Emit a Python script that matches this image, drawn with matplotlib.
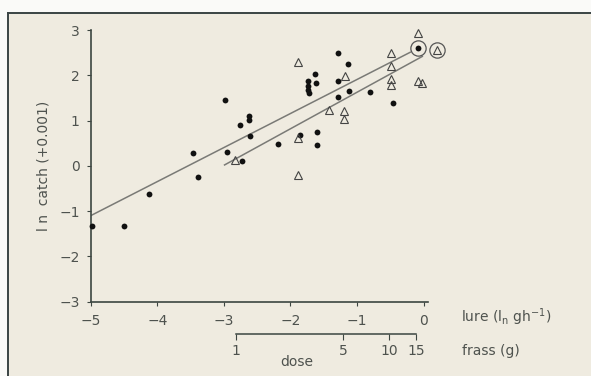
import matplotlib
matplotlib.use("Agg")
import matplotlib.pyplot as plt
from matplotlib.lines import Line2D
from matplotlib.patches import Rectangle
import numpy as np

plt.rcParams['font.family'] = ['DejaVu Sans']

# lure dose (ln g/h) vs ln catch, filled dots = lure, triangles = frass
dots_x = [-4.98, -4.50, -4.13, -3.46, -3.39, -2.99, -2.95, -2.76, -2.62, -2.62,
          -2.61, -2.73, -2.18, -1.85, -1.74, -1.74, -1.73, -1.72, -1.63, -1.62,
          -1.60, -1.60, -1.29, -1.29, -1.29, -1.13, -1.12, -0.80, -0.46, -0.09]
dots_y = [-1.33, -1.32, -0.62, 0.29, -0.24, 1.46, 0.30, 0.91, 1.11, 1.02,
          0.66, 0.11, 0.49, 0.68, 1.87, 1.77, 1.68, 1.60, 2.02, 1.83,
          0.74, 0.47, 2.49, 1.87, 1.53, 2.24, 1.66, 1.64, 1.38, 2.60]

tri_x = [-2.84, -1.89, -1.89, -1.89, -1.42, -1.19, -1.19, -1.18,
         -0.49, -0.49, -0.49, -0.49, -0.09, -0.08, -0.03, 0.20]
tri_y = [0.13, 0.62, -0.21, 2.30, 1.24, 1.22, 1.03, 1.98,
         2.49, 2.21, 1.92, 1.79, 2.94, 1.88, 1.83, 2.56]

circled_x = [-0.09, 0.20]
circled_y = [2.60, 2.56]

# regression lines: slope, intercept (at x=0), x range
dot_fit = (0.752, 2.66, -5.0, -0.2)
tri_fit = (0.807, 2.433, -2.99, -0.02)

# frass (g) axis: ln(g) = lure + offset
frass_offset = 2.82
frass_ticks = [1, 5, 10, 15]

xticks = [-5, -4, -3, -2, -1, 0]
yticks = [-3, -2, -1, 0, 1, 2, 3]

ink = '#3c4641'
txt = '#4e524e'
bg = '#efebe0'

fig = plt.figure(figsize=(5.91, 3.76), dpi=100)
fig.patch.set_facecolor('#fafaf8')

# paper background and frame
fig.patches.append(Rectangle((8/591, 0), 1, (376-13)/376, transform=fig.transFigure,
                             facecolor=bg, edgecolor='none', zorder=-5))
fig.lines.append(Line2D([8/591, 1], [(376-13)/376]*2, transform=fig.transFigure,
                        color='#3a4444', lw=1.4, zorder=-4))
fig.lines.append(Line2D([8/591]*2, [0, (376-13)/376], transform=fig.transFigure,
                        color='#3a4444', lw=1.4, zorder=-4))

ax = fig.add_axes([90.7/591, (376-301.7)/376, 337.3/591, 271.7/376])
ax.set_facecolor('none')
ax.set_xlim(-5, 0.065)
ax.set_ylim(-3, 3)
for s in ['top', 'right']:
    ax.spines[s].set_visible(False)
for s in ['left', 'bottom']:
    ax.spines[s].set_color(ink)
    ax.spines[s].set_linewidth(1.2)

for slope, icpt, x0, x1 in [dot_fit, tri_fit]:
    xs = np.array([x0, x1])
    ax.plot(xs, slope * xs + icpt, color='#7a7a76', lw=1.1, zorder=2)

ax.plot(dots_x, dots_y, 'o', color='#111111', ms=4.2, mew=0, clip_on=False, zorder=3)
ax.plot(tri_x, tri_y, '^', mfc='none', mec='#444444', ms=6, mew=0.8,
        clip_on=False, zorder=3)
ax.plot(circled_x, circled_y, 'o', mfc='none', mec='#555555', ms=11, mew=0.9,
        clip_on=False, zorder=3)

ax.set_xticks(xticks)
ax.set_yticks(yticks)
ax.tick_params(direction='out', length=3, width=0.8, color=ink, labelcolor=txt,
               labelsize=10)
ax.tick_params(axis='x', pad=6)
ax.tick_params(axis='y', pad=5)

ax.set_ylabel('l n  catch (+0.001)', color=txt, fontsize=10, labelpad=6)

# second scale for frass
sec = ax.secondary_xaxis(-0.119, functions=(
    lambda x: np.exp(x + frass_offset),
    lambda g: np.log(np.clip(g, 1e-9, None)) - frass_offset))
sec.set_xticks(frass_ticks)
sec.set_xticklabels([str(t) for t in frass_ticks])
sec.spines['bottom'].set_bounds(1, 15)
sec.spines['bottom'].set_color(ink)
sec.spines['bottom'].set_linewidth(1.1)
sec.tick_params(direction='out', length=4, width=0.8, color=ink, labelcolor=txt,
                labelsize=10, pad=3)
sec.xaxis.set_minor_locator(matplotlib.ticker.NullLocator())

fig.text(461/591, 1 - 317/376, 'lure (l$_\\mathregular{n}$ gh$^{\\mathregular{-1}}$)',
         color=txt, fontsize=10, va='center', ha='left')
fig.text(462/591, 1 - 350.7/376, 'frass (g)', color=txt, fontsize=10,
         va='center', ha='left')
fig.text(297/591, 1 - 362/376, 'dose', color=txt, fontsize=10,
         va='center', ha='center')

fig.savefig('out.png', dpi=100, facecolor=fig.get_facecolor())
